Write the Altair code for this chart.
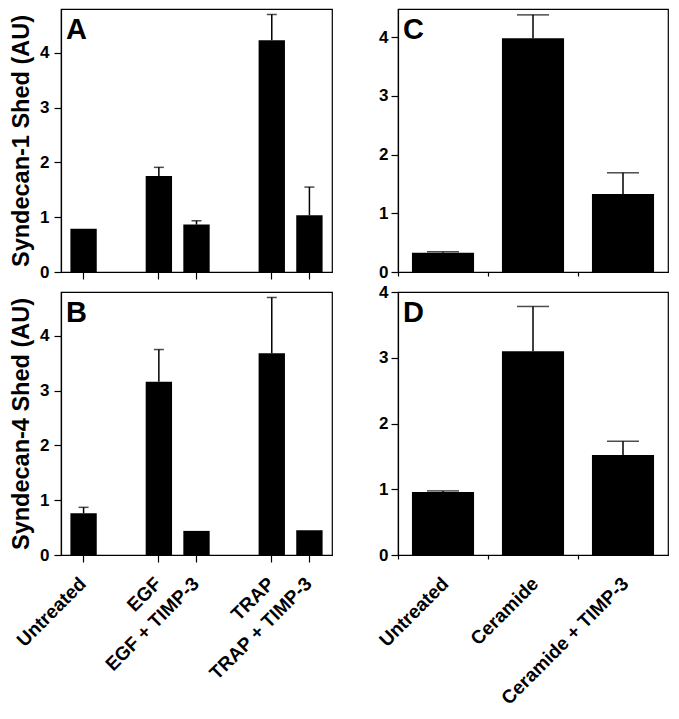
import altair as alt
import pandas as pd

# ---- data ----
left_categories = ["Untreated", "EGF", "EGF + TIMP-3", "TRAP", "TRAP + TIMP-3"]
left_slots = ["Untreated", " ", "EGF", "EGF + TIMP-3", "  ", "TRAP", "TRAP + TIMP-3"]
a_means = [0.79, 1.75, 0.865, 4.23, 1.035]
a_upper = [None, 1.91, 0.935, 4.70, 1.55]
b_means = [0.76, 3.16, 0.44, 3.68, 0.45]
b_upper = [0.87, 3.75, None, 4.70, None]

right_categories = ["Untreated", "Ceramide", "Ceramide + TIMP-3"]
c_means = [0.327, 3.98, 1.33]
c_upper = [0.345, 4.38, 1.69]
d_means = [0.958, 3.10, 1.52]
d_upper = [0.975, 3.78, 1.73]

y_ticks = [0, 1, 2, 3, 4]
FONT = "Liberation Sans"


def panel(letter, cats, means, upper, slots, ymax, width, height, cap,
          ytitle, show_labels, boundary_ticks):
    df = pd.DataFrame({"cat": cats, "mean": means, "upper": upper})
    err = df.dropna(subset=["upper"])

    if boundary_ticks:
        xscale = alt.Scale(domain=slots, paddingInner=0, paddingOuter=0)
        axis_kw = dict(bandPosition=0, labelOffset=-4, tickSize=4, labelPadding=15)
        bar_kw = dict(width=alt.RelativeBandSize(0.69))
        ylab_pad = 3
    else:
        xscale = alt.Scale(domain=slots, paddingInner=0.3, paddingOuter=0.25)
        axis_kw = dict(values=cats, labelOffset=-7, tickSize=7, labelPadding=12)
        bar_kw = dict()
        ylab_pad = 5

    xaxis = alt.Axis(title=None, labels=show_labels,
                     labelAngle=-45, labelAlign="right", labelBaseline="top",
                     labelFontSize=19, labelFontWeight="bold",
                     labelOverlap=False, labelLimit=400, **axis_kw)
    yaxis = alt.Axis(values=y_ticks, title=ytitle, tickSize=7, labelPadding=ylab_pad,
                     labelFontSize=17, labelFontWeight="bold",
                     titleFontSize=23.5, titleFontWeight="bold", titlePadding=6)
    yscale = alt.Scale(domain=[0, ymax], nice=False, zero=True)

    x = alt.X("cat:N", scale=xscale, axis=xaxis, sort=slots)

    bars = alt.Chart(df).mark_bar(color="black", **bar_kw).encode(
        x=x, y=alt.Y("mean:Q", scale=yscale, axis=yaxis))
    rules = alt.Chart(err).mark_rule(color="black", strokeWidth=1.5).encode(
        x=x, y=alt.Y("mean:Q", scale=yscale, axis=yaxis), y2="upper:Q")
    caps = alt.Chart(err).mark_tick(color="black", orient="horizontal",
                                    size=cap, thickness=1.5).encode(
        x=x, y=alt.Y("upper:Q", scale=yscale, axis=yaxis))
    label = alt.Chart(pd.DataFrame({"t": [letter]})).mark_text(
        align="left", baseline="alphabetic", fontSize=29, fontWeight="bold",
        font=FONT, color="black").encode(
        text="t:N", x=alt.value(5), y=alt.value(30))
    return alt.layer(bars, rules, caps, label).properties(width=width, height=height)


W_L, W_R, H = 271, 270, 263

pA = panel("A", left_categories, a_means, a_upper, left_slots, 4.8, W_L, H, 10,
           "Syndecan-1 Shed (AU)", False, False)
pB = panel("B", left_categories, b_means, b_upper, left_slots, 4.8, W_L, H, 10,
           "Syndecan-4 Shed (AU)", True, False)
pC = panel("C", right_categories, c_means, c_upper, right_categories, 4.48, W_R, H, 32,
           None, False, True)
pD = panel("D", right_categories, d_means, d_upper, right_categories, 4.0, W_R, H, 32,
           None, True, True)

chart = alt.concat(pA, pC, pB, pD, columns=2,
                   spacing={"row": 20, "column": 66},
                   bounds="flush", align="each").properties(
    padding=0
).configure_view(
    stroke="black", strokeWidth=1.2
).configure_axis(
    domainColor="black", tickColor="black", labelColor="black", titleColor="black",
    labelFont=FONT, titleFont=FONT, grid=False, domainWidth=1.2, tickWidth=1.2
)

chart.save("out.html", embed_options={"renderer": "svg", "actions": False})
